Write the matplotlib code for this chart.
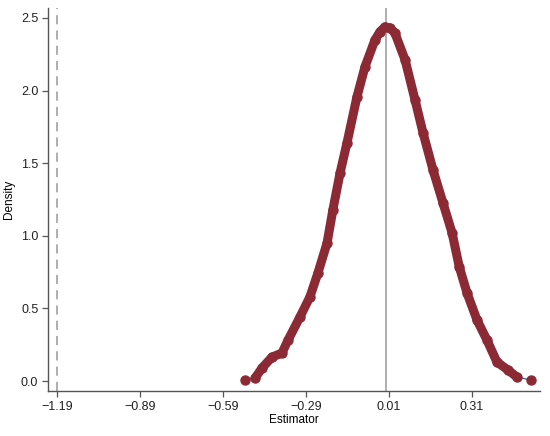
import matplotlib
matplotlib.use("Agg")
import matplotlib.pyplot as plt

plt.rcParams['font.family'] = ['Liberation Sans', 'DejaVu Sans']

# density estimate
est_x = [-0.511, -0.474, -0.449, -0.413, -0.377, -0.355, -0.312, -0.276, -0.247,
         -0.214, -0.193, -0.167, -0.142, -0.106, -0.077, -0.041, -0.023, -0.005,
         0.013, 0.031, 0.068, 0.104, 0.133, 0.169, 0.205, 0.238, 0.264, 0.292,
         0.328, 0.364, 0.400, 0.440, 0.472, 0.523]
density = [0.007, 0.021, 0.090, 0.165, 0.193, 0.282, 0.441, 0.579, 0.744,
           0.950, 1.178, 1.432, 1.639, 1.956, 2.163, 2.348, 2.404, 2.438,
           2.431, 2.397, 2.211, 1.935, 1.708, 1.453, 1.226, 1.019, 0.785, 0.606,
           0.420, 0.282, 0.131, 0.076, 0.028, 0.007]

true_value = -1.19
center_value = 0.0
xticks = [-1.19, -0.89, -0.59, -0.29, 0.01, 0.31]
yticks = [0.0, 0.5, 1.0, 1.5, 2.0, 2.5]

red = '#8b2a35'
axis_col = '#555555'

fig = plt.figure(figsize=(5.5, 4.36), dpi=100)
ax = fig.add_axes([0.0873, 0.103, 0.8947, 0.879])

ax.axvline(true_value, color='#999999', lw=1.1, ls=(0, (6, 4)), zorder=1)
ax.axvline(center_value, color='#999999', lw=1.1, zorder=1)

ax.plot(est_x, density, color='#1f4e79', lw=0.8, zorder=2)
ax.plot(est_x[1:-1], density[1:-1], color=red, lw=6.5,
        solid_capstyle='round', solid_joinstyle='round', zorder=3)
ax.plot(est_x, density, 'o', color=red, ms=6.5, mec=red, zorder=4)

ax.set_xlim(-1.2225, 0.556)
ax.set_ylim(-0.069, 2.569)
ax.set_xticks(xticks)
ax.set_xticklabels([f'{v:.2f}'.replace('-', '\u2212') for v in xticks])
ax.set_yticks(yticks)
ax.set_yticklabels([f'{v:.1f}' for v in yticks])

for s in ['top', 'right']:
    ax.spines[s].set_visible(False)
for s in ['left', 'bottom']:
    ax.spines[s].set_color(axis_col)
    ax.spines[s].set_linewidth(1.0)
ax.tick_params(colors='#222222', labelsize=9, length=4, width=0.9, pad=3)
ax.tick_params(axis='both', color=axis_col)

ax.set_xlabel('Estimator', fontsize=8.5, labelpad=1)
ax.set_ylabel('Density', fontsize=8.5, labelpad=4)

fig.savefig('out.png', dpi=100)
